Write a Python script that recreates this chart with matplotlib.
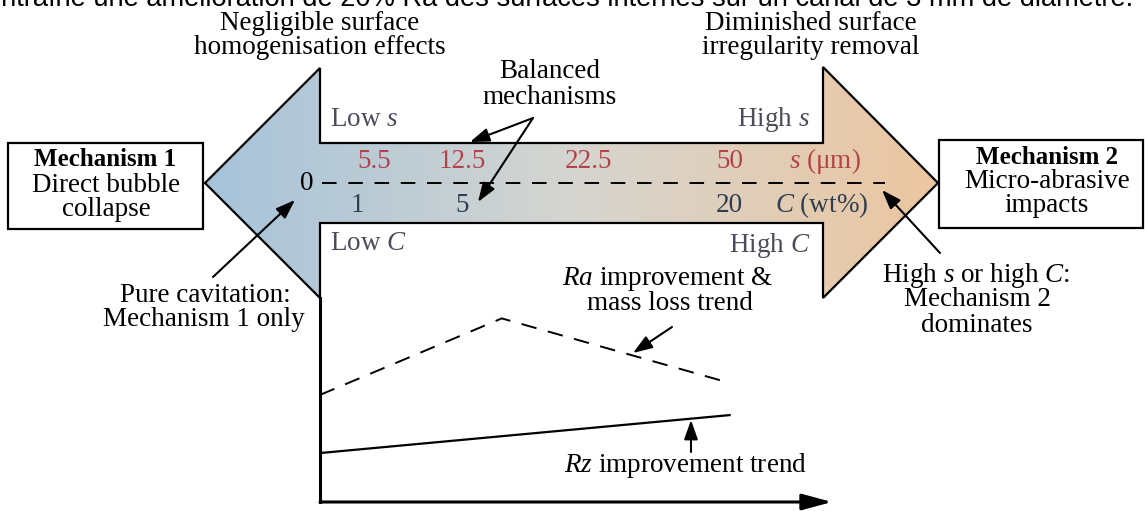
import numpy as np
import matplotlib
matplotlib.use('Agg')
import matplotlib.pyplot as plt
from matplotlib.patches import Polygon, Rectangle
from matplotlib.colors import LinearSegmentedColormap

plt.rcParams['font.family'] = ['Liberation Serif', 'DejaVu Serif']
plt.rcParams['mathtext.fontset'] = 'custom'
plt.rcParams['mathtext.rm'] = 'Liberation Serif'
plt.rcParams['mathtext.it'] = 'Liberation Serif:italic'
plt.rcParams['mathtext.bf'] = 'Liberation Serif:bold'

# scale labels on the arrow
s_labels = ['5.5', '12.5', '22.5', '50']
c_labels = ['1', '5', '20']
s_pos = [374, 462, 588, 730]
c_pos = [357, 462, 729]

# trend lines (arbitrary units)
ra_x = [0.0, 3.55, 7.87]
ra_y = [5.25, 9.0, 5.93]
rz_x = [0.0, 8.0]
rz_y = [2.4, 4.26]

W, H = 1145, 511
fig = plt.figure(figsize=(W / 100, H / 100), dpi=100)
ax = fig.add_axes([0, 0, 1, 1])
ax.set_xlim(0, W)
ax.set_ylim(H, 0)
ax.axis('off')

FS = 19.5
FB = 18
red = '#b3434a'
navy = '#2f3e50'
grey = '#4d4d5a'

# clipped caption line at very top
ax.text(-14, 6, "entraîne une amélioration de 20% Ra des surfaces internes sur un canal de 3 mm de diamètre.",
        family='Liberation Sans', fontsize=19.6, va='baseline', ha='left')

# double arrow with gradient
arrow_pts = [(205, 183), (320, 68), (320, 143), (823, 143), (823, 67), (938, 183),
             (823, 298), (823, 223), (320, 223), (320, 298)]
poly = Polygon(arrow_pts, closed=True, facecolor='none', edgecolor='black', lw=1.6, zorder=3)
ax.add_patch(poly)
cmap = LinearSegmentedColormap.from_list('grad', ['#a6c3da', '#d5d5d0', '#ecc6a0'])
grad = np.linspace(0, 1, 256).reshape(1, -1)
im = ax.imshow(grad, extent=(205, 938, 298, 67), cmap=cmap, aspect='auto', zorder=1)
im.set_clip_path(poly)
ax.set_xlim(0, W)
ax.set_ylim(H, 0)

ax.plot([322, 885], [183, 183], color='black', lw=1.4, dashes=(7.5, 6), zorder=4)
ax.text(307, 183, '0', fontsize=FS, ha='center', va='center', zorder=5)

for lab, x in zip(s_labels, s_pos):
    ax.text(x, 161, lab, fontsize=FS, color=red, ha='center', va='center', zorder=5)
ax.text(825, 161, '$s$ (μm)', fontsize=FS, color=red, ha='center', va='center', zorder=5)
for lab, x in zip(c_labels, c_pos):
    ax.text(x, 205, lab, fontsize=FS, color=navy, ha='center', va='center', zorder=5)
ax.text(822, 205, '$C$ (wt%)', fontsize=FS, color=navy, ha='center', va='center', zorder=5)

ax.text(330, 120, 'Low $s$', fontsize=FS, color=grey, ha='left', va='center')
ax.text(810, 120, 'High $s$', fontsize=FS, color=grey, ha='right', va='center')
ax.text(330, 243, 'Low $C$', fontsize=FS, color=grey, ha='left', va='center')
ax.text(810, 246, 'High $C$', fontsize=FS, color=grey, ha='right', va='center')

# headings
ax.text(320, 23, 'Negligible surface', fontsize=FS, ha='center', va='center')
ax.text(320, 47, 'homogenisation effects', fontsize=FS, ha='center', va='center')
ax.text(811, 23, 'Diminished surface', fontsize=FS, ha='center', va='center')
ax.text(811, 47, 'irregularity removal', fontsize=FS, ha='center', va='center')
ax.text(550, 71, 'Balanced', fontsize=FS, ha='center', va='center')
ax.text(550, 97, 'mechanisms', fontsize=FS, ha='center', va='center')

# mechanism boxes
ax.add_patch(Rectangle((8, 143), 195, 86, facecolor='white', edgecolor='black', lw=1.6, zorder=3))
ax.text(105, 159, 'Mechanism 1', fontsize=FB, weight='bold', ha='center', va='center', zorder=4)
ax.text(106, 185, 'Direct bubble', fontsize=FS, ha='center', va='center', zorder=4)
ax.text(106, 209, 'collapse', fontsize=FS, ha='center', va='center', zorder=4)

ax.add_patch(Rectangle((939, 140), 204, 88, facecolor='white', edgecolor='black', lw=1.6, zorder=3))
ax.text(1047, 157, 'Mechanism 2', fontsize=FB, weight='bold', ha='center', va='center', zorder=4)
ax.text(1047, 182, 'Micro-abrasive', fontsize=FS, ha='center', va='center', zorder=4)
ax.text(1047, 206, 'impacts', fontsize=FS, ha='center', va='center', zorder=4)

# callouts
ax.text(205, 296, 'Pure cavitation:', fontsize=FS, ha='center', va='center')
ax.text(204, 320, 'Mechanism 1 only', fontsize=FS, ha='center', va='center')
ax.text(976, 275, 'High $s$ or high $C$:', fontsize=FS, ha='center', va='center')
ax.text(978, 300, 'Mechanism 2', fontsize=FS, ha='center', va='center')
ax.text(977, 325, 'dominates', fontsize=FS, ha='center', va='center')
ax.text(668, 279, '$Ra$ improvement &', fontsize=FS, ha='center', va='center')
ax.text(670, 303, 'mass loss trend', fontsize=FS, ha='center', va='center')
ax.text(685, 465, '$Rz$ improvement trend', fontsize=FS, ha='center', va='center')

aprops = dict(arrowstyle='-|>,head_length=0.9,head_width=0.32', mutation_scale=13,
              color='black', lw=1.5, shrinkA=0, shrinkB=0)
for (x0, y0), (x1, y1) in [((533, 118), (470, 142)), ((533, 118), (478, 202)),
                           ((213, 277), (295, 200)), ((940, 253), (882, 190)),
                           ((672, 327), (633, 353)), ((691, 452), (691, 420))]:
    ax.annotate('', xy=(x1, y1), xytext=(x0, y0), arrowprops=aprops, zorder=6)

# trend chart
ax2 = fig.add_axes([320 / W, (H - 502) / H, (832 - 320) / W, (502 - 298) / H])
ax2.patch.set_visible(False)
ax2.set_xlim(0, 10)
ax2.set_ylim(0, 10)
ax2.set_xticks([])
ax2.set_yticks([])
for sp in ['top', 'right', 'bottom']:
    ax2.spines[sp].set_visible(False)
ax2.spines['left'].set_linewidth(2.2)
ax2.annotate('', xy=(1, 0), xytext=(0, 0), xycoords='axes fraction',
             arrowprops=dict(arrowstyle='-|>,head_length=1.3,head_width=0.35', mutation_scale=14,
                             color='black', lw=2.2, shrinkA=0, shrinkB=0))
ax2.plot(ra_x, ra_y, color='black', lw=1.4, dashes=(8, 6))
ax2.plot(rz_x, rz_y, color='black', lw=1.6)

fig.savefig('out.png', dpi=100)
